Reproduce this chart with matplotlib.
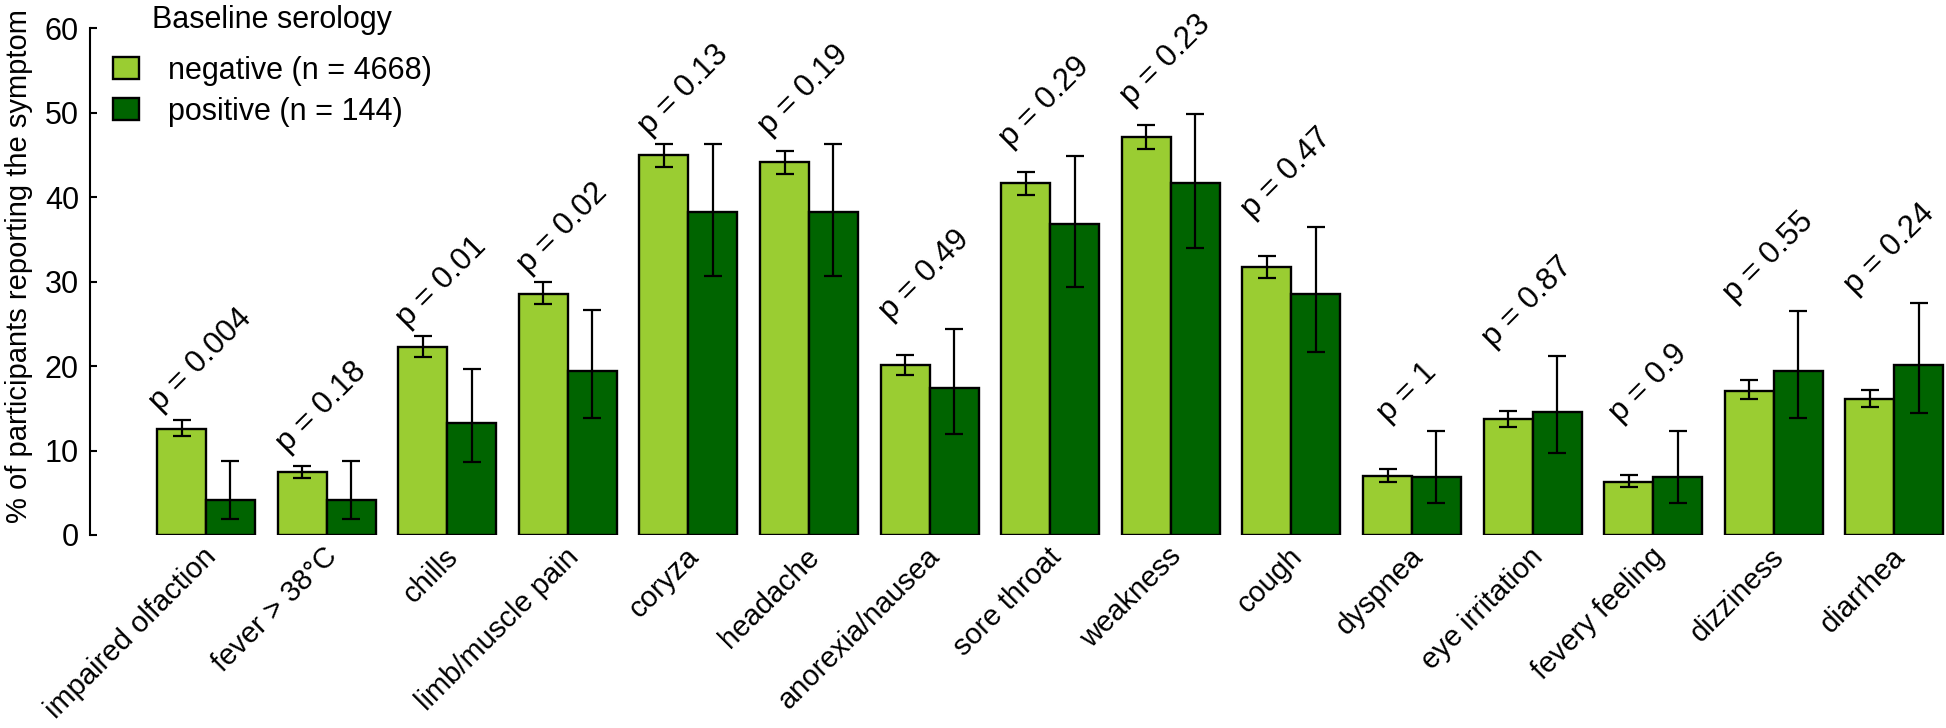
import matplotlib
matplotlib.use("Agg")
import matplotlib.pyplot as plt
import numpy as np

plt.rcParams['font.family'] = ['Liberation Sans', 'DejaVu Sans']

symptoms = ["impaired olfaction", "fever > 38°C", "chills", "limb/muscle pain",
            "coryza", "headache", "anorexia/nausea", "sore throat", "weakness",
            "cough", "dyspnea", "eye irritation", "fevery feeling", "dizziness",
            "diarrhea"]
neg_val = [12.6, 7.4, 22.3, 28.5, 45.0, 44.1, 20.1, 41.6, 47.1, 31.7, 7.0, 13.7, 6.3, 17.1, 16.1]
neg_lo = [11.7, 6.8, 21.1, 27.3, 43.6, 42.7, 18.9, 40.2, 45.7, 30.4, 6.3, 12.8, 5.7, 16.1, 15.1]
neg_hi = [13.6, 8.2, 23.5, 29.9, 46.3, 45.5, 21.3, 42.9, 48.5, 33.0, 7.8, 14.7, 7.1, 18.3, 17.2]
pos_val = [4.2, 4.2, 13.2, 19.4, 38.2, 38.2, 17.4, 36.8, 41.7, 28.5, 6.9, 14.6, 6.9, 19.4, 20.1]
pos_lo = [1.9, 1.9, 8.6, 13.9, 30.7, 30.7, 12.0, 29.4, 34.0, 21.7, 3.8, 9.7, 3.8, 13.8, 14.4]
pos_hi = [8.8, 8.8, 19.7, 26.6, 46.3, 46.3, 24.4, 44.9, 49.8, 36.4, 12.3, 21.2, 12.3, 26.5, 27.4]
p_labels = ["p = 0.004", "p = 0.18", "p = 0.01", "p = 0.02", "p = 0.13", "p = 0.19",
            "p = 0.49", "p = 0.29", "p = 0.23", "p = 0.47", "p = 1", "p = 0.87",
            "p = 0.9", "p = 0.55", "p = 0.24"]
legend_title = "Baseline serology"
series_labels = ["negative (n = 4668)", "positive (n = 144)"]
y_ticks = [0, 10, 20, 30, 40, 50, 60]

LIGHT = "#9ACD32"
DARK = "#006400"
FS = 22
FS_X = 21
FS_Y = 21
FS_P = 22.5

W, H = 1946, 728
fig = plt.figure(figsize=(W / 100, H / 100), dpi=100)
ax = fig.add_axes([90 / W, 1 - 535 / H, (W - 90) / W, (535 - 28) / H])

x = np.arange(len(symptoms))
bw = 0.406
neg_val_a = np.array(neg_val)
pos_val_a = np.array(pos_val)
neg_err = [neg_val_a - np.array(neg_lo), np.array(neg_hi) - neg_val_a]
pos_err = [pos_val_a - np.array(pos_lo), np.array(pos_hi) - pos_val_a]

b1 = ax.bar(x - bw / 2, neg_val, width=bw, color=LIGHT, edgecolor="black",
            linewidth=1.7, label=series_labels[0], zorder=2)
b2 = ax.bar(x + bw / 2, pos_val, width=bw, color=DARK, edgecolor="black",
            linewidth=1.7, label=series_labels[1], zorder=2)
ax.errorbar(x - bw / 2, neg_val, yerr=neg_err, fmt="none", ecolor="black",
            elinewidth=1.6, capsize=6.5, capthick=1.6, zorder=3)
ax.errorbar(x + bw / 2, pos_val, yerr=pos_err, fmt="none", ecolor="black",
            elinewidth=1.6, capsize=6.5, capthick=1.6, zorder=3)

ax.set_xlim((90 - 206) / 120.6, (W - 206) / 120.6)
ax.set_ylim(0, 60)
for s in ["top", "right", "bottom"]:
    ax.spines[s].set_visible(False)
ax.spines["left"].set_bounds(0, 60)
ax.spines["left"].set_linewidth(1.5)
ax.set_xticks([])
ax.set_yticks(y_ticks)
ax.tick_params(axis="y", direction="in", length=5, width=1.5, labelsize=FS, pad=8)

# x category labels
for xi, lab in zip(x, symptoms):
    ax.annotate(lab, xy=(xi, 0), xytext=(12 * 0.72, -23 * 0.72),
                textcoords="offset points", ha="right", va="baseline",
                rotation=45, rotation_mode="anchor", fontsize=FS_X,
                annotation_clip=False)

# p-value labels
renderer = fig.canvas.get_renderer()
top = np.maximum(np.array(neg_hi), np.array(pos_hi))
for xi, lab, t_y in zip(x, p_labels, top):
    tmp = ax.text(0, 0, lab, fontsize=FS_P)
    wpx = tmp.get_window_extent(renderer).width
    tmp.remove()
    dx_px = 30 - 0.354 * wpx
    ax.annotate(lab, xy=(xi - bw / 2, t_y), xytext=(dx_px * 0.72, 3 * 0.72),
                textcoords="offset points", ha="left", va="bottom",
                rotation=45, rotation_mode="anchor", fontsize=FS_P,
                annotation_clip=False)

fig.text(19 / W, 1 - 266 / H, "% of participants reporting the symptom",
         rotation=90, ha="center", va="center", fontsize=FS_Y)

leg = ax.legend(handles=[b1, b2], labels=series_labels, title=legend_title,
                loc="upper left", bbox_to_anchor=(113 / W, 1 - 5 / H),
                bbox_transform=fig.transFigure, frameon=False, fontsize=FS,
                title_fontsize=FS, borderpad=0, borderaxespad=0,
                handlelength=0.85, handleheight=0.75, handletextpad=0.95,
                labelspacing=0.36)
leg._legend_box.sep = 15

fig.savefig("out.png", dpi=100)
